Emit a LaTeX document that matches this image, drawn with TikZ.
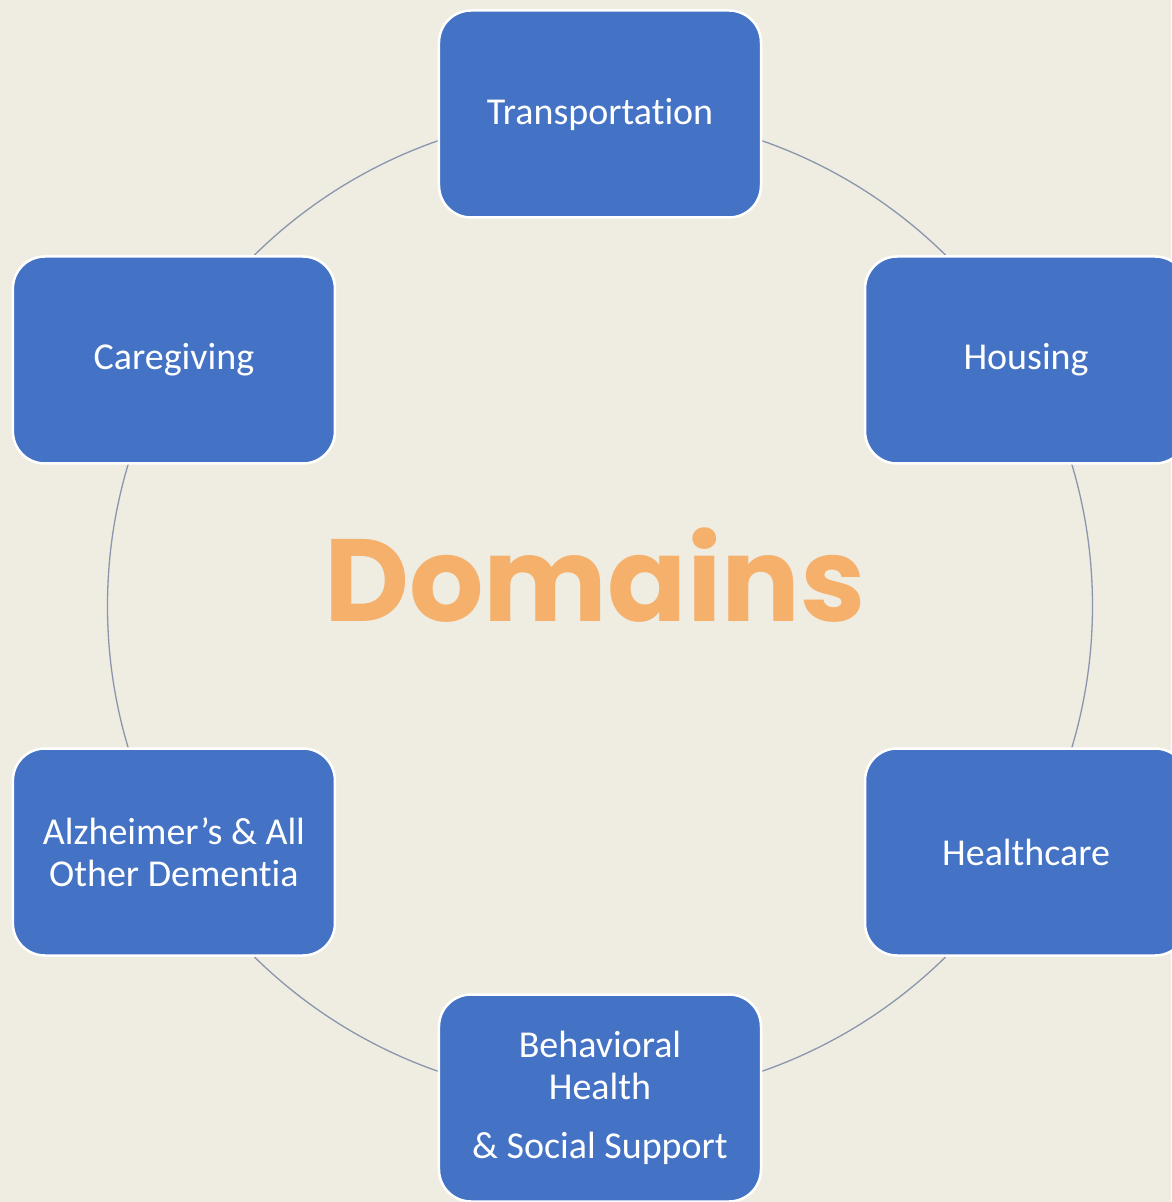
\documentclass[tikz,border=0pt]{standalone}
\usepackage{fontspec}
\setmainfont{Carlito}[Ligatures=NoCommon]
\newfontfamily\titlefont{Poppins}
\definecolor{boxblue}{HTML}{4472C4}
\definecolor{paper}{HTML}{EFECE2}
\definecolor{ringgray}{HTML}{8A96AC}
\definecolor{titleorange}{HTML}{F5B06B}

\begin{document}
\begin{tikzpicture}[x=1pt,y=1pt,
	domainbox/.style={draw=white,line width=2.5pt,fill=boxblue,rounded corners=32pt,
		minimum width=322pt,minimum height=207pt,inner sep=0pt,
		text=white,align=center,font=\fontsize{38}{42}\selectfont},
	ring/.style={draw=ringgray,line width=1.3pt}]
\fill[paper] (-600,-596) rectangle (571,606);
\useasboundingbox (-600,-596) rectangle (571,606);
\coordinate (centre) at (0,0);
\draw[ring] (centre) circle (492.5);
\node[domainbox] (trans) at (90:492) {Transportation};
\node[domainbox] (hous) at (30:492) {Housing};
\node[domainbox] (heal) at (-30:492) {Healthcare};
\node[domainbox] (behav) at (-90:492) {Behavioral\\Health\\[17pt]\& Social Support};
\node[domainbox] (alz) at (-150:492) {Alzheimer’s \& All\\Other Dementia};
\node[domainbox] (care) at (150:492) {Caregiving};
\node[anchor=base,text=titleorange,font=\titlefont\bfseries\fontsize{117}{117}\selectfont] (title) at (-5,-15) {Domains};
\end{tikzpicture}
\end{document}
